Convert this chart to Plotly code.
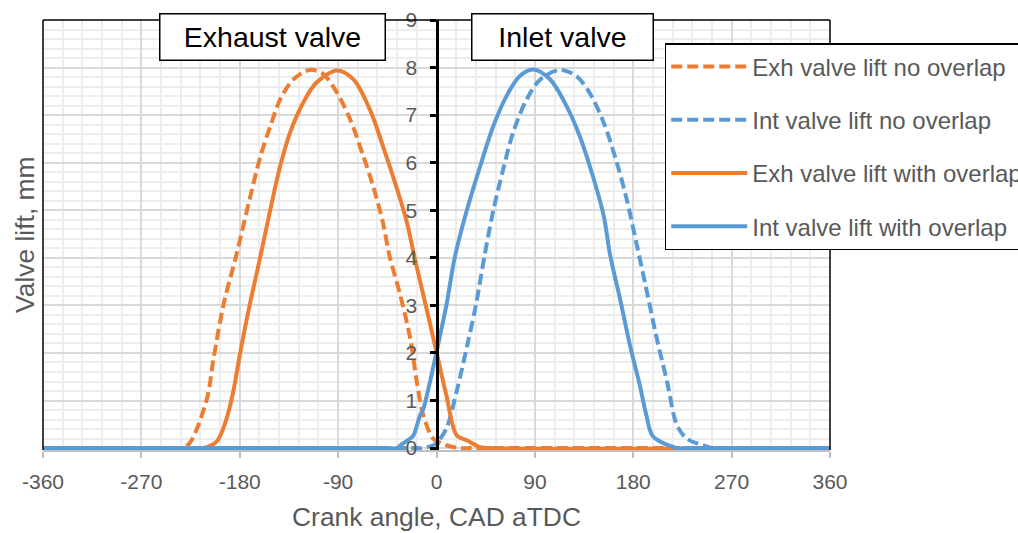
import plotly.graph_objects as go

# ---------------- data ----------------
exh_no_angle = [-360, -240, -232, -225, -210, -204, -195, -183, -171, -161, -152, -143, -131, -116,
                -104, -91, -79, -67, -58, -49, -43, -33, -24, -18, -12, -3, 9, 21, 30, 360]
exh_no_lift = [0, 0, 0, 0.13, 1.04, 1.88, 3.0, 4.07, 5.23, 6.14, 6.77, 7.33, 7.75, 7.95,
               7.87, 7.47, 6.91, 6.14, 5.51, 4.74, 4.04, 3.2, 2.3, 1.39, 0.69, 0.2, 0.06, 0, 0, 0]

int_no_angle = [-360, -20, -12, -3, 0, 9, 18.5, 28, 36, 44, 52, 61, 70, 82.5, 95, 113, 128, 140,
                153, 165, 174, 183, 192, 201, 211, 220, 229, 244, 253, 262, 360]
int_no_lift = [0, 0, 0, 0.06, 0.1, 0.41, 1.2, 2.15, 3.0, 4.05, 5.0, 5.86, 6.63, 7.33, 7.75, 7.95,
               7.82, 7.47, 6.84, 6.0, 5.23, 4.3, 3.34, 2.36, 1.39, 0.48, 0.2, 0.06, 0, 0, 0]

exh_ov_angle = [-360, -222, -213, -201, -193, -186, -180, -171, -161, -152, -143, -134, -122, -110,
                -91, -76, -61, -49, -36, -27, -20, -9, 0, 9, 18.5, 28, 40, 50, 360]
exh_ov_lift = [0, 0, 0, 0.14, 0.55, 1.18, 1.95, 3.0, 4.04, 5.02, 5.93, 6.63, 7.26, 7.68,
               7.94, 7.75, 7.12, 6.35, 5.44, 4.74, 4.0, 2.92, 2.02, 1.11, 0.27, 0.16, 0.02, 0, 0]

int_ov_angle = [-360, -45, -36, -33, -24, -21, -15, -12, -6, 0, 9, 17, 28, 40, 52, 64, 76, 88.5,
                104, 119, 131, 143, 153, 159, 168, 177, 186, 192, 198, 220, 230, 360]
int_ov_lift = [0, 0, 0, 0.06, 0.2, 0.27, 0.69, 0.83, 1.39, 2.02, 3.0, 4.04, 5.02, 5.93, 6.77, 7.4,
               7.82, 7.96, 7.75, 7.19, 6.56, 5.72, 4.88, 4.04, 3.13, 2.16, 1.32, 0.69, 0.25, 0, 0, 0]

series_names = ["Exh valve lift no overlap", "Int valve lift no overlap",
                "Exh valve lift with overlap", "Int valve lift with overlap"]

x_tick_vals = [-360, -270, -180, -90, 0, 90, 180, 270, 360]
x_tick_labels = ["-360", "-270", "-180", "-90", "0", "90", "180", "270", "360"]
y_tick_vals = [0, 1, 2, 3, 4, 5, 6, 7, 8, 9]

x_title = "Crank angle, CAD aTDC"
y_title = "Valve lift, mm"
label_exhaust = "Exhaust valve"
label_inlet = "Inlet valve"

# ---------------- styling ----------------
ORANGE = "#ED7D31"
BLUE = "#5B9BD5"
GREY_TXT = "#595959"
FONT = "Liberation Sans, Arial, sans-serif"
DASH = "11px,5px"

fig = go.Figure()
specs = [
    (exh_no_angle, exh_no_lift, ORANGE, DASH),
    (int_no_angle, int_no_lift, BLUE, DASH),
    (exh_ov_angle, exh_ov_lift, ORANGE, "solid"),
    (int_ov_angle, int_ov_lift, BLUE, "solid"),
]
for name, (xs, ys, col, dash) in zip(series_names, specs):
    fig.add_trace(go.Scatter(
        x=xs, y=ys, mode="lines", name=name, legendgroup=name,
        line=dict(color=col, width=4, dash=dash, shape="spline", smoothing=0.9),
        cliponaxis=False,
    ))

fig.update_layout(
    width=1018, height=533,
    margin=dict(l=43, r=188, t=20, b=83, autoexpand=False),
    paper_bgcolor="white", plot_bgcolor="white",
    font=dict(family=FONT, color=GREY_TXT),
    showlegend=True,
    legend=dict(
        x=0.790, y=0.9465, xanchor="left", yanchor="top",
        bgcolor="white", bordercolor="black", borderwidth=1.5,
        font=dict(size=24, color=GREY_TXT, family=FONT),
        itemwidth=76, tracegroupgap=19, traceorder="grouped",
    ),
    xaxis=dict(
        range=[-360, 360], tickvals=x_tick_vals, ticktext=x_tick_labels,
        showgrid=True, gridcolor="#D9D9D9", gridwidth=1.5,
        minor=dict(dtick=18, showgrid=True, gridcolor="#EDEDED", gridwidth=1.5,
                   ticks=""),
        showline=True, linecolor="#BFBFBF", linewidth=1.5,
        ticks="outside", ticklen=6, tickwidth=1.5, tickcolor="#BFBFBF",
        tickfont=dict(size=21, color=GREY_TXT), zeroline=False,
        ticklabelstandoff=6,
        title=dict(text=x_title, font=dict(size=26.4, color=GREY_TXT), standoff=16),
    ),
    yaxis=dict(
        range=[-0.04, 9], tickvals=y_tick_vals, anchor="free", position=0.5,
        showgrid=True, gridcolor="#D9D9D9", gridwidth=1.5,
        minor=dict(dtick=0.2, showgrid=True, gridcolor="#EDEDED", gridwidth=1.5,
                   ticks=""),
        showline=True, linecolor="black", linewidth=3,
        ticks="outside", ticklen=6, tickwidth=3, tickcolor="black",
        tickfont=dict(size=21, color=GREY_TXT), zeroline=False,
        ticklabelstandoff=8,
    ),
    shapes=[
        dict(type="line", xref="paper", yref="paper", x0=0, x1=1, y0=1, y1=1,
             line=dict(color="black", width=1.5), layer="above"),
        dict(type="line", xref="paper", yref="paper", x0=0, x1=0, y0=0, y1=1,
             line=dict(color="black", width=1.5), layer="above"),
        dict(type="line", xref="paper", yref="paper", x0=1, x1=1, y0=0, y1=1,
             line=dict(color="black", width=1.5), layer="above"),
    ],
    annotations=[
        dict(text=y_title, xref="paper", yref="paper", x=-0.023, y=0.5,
             textangle=-90, showarrow=False, xanchor="center", yanchor="middle",
             font=dict(size=26.4, color=GREY_TXT, family=FONT)),
        dict(text=label_exhaust, xref="paper", yref="paper", x=0.291, y=0.9616,
             showarrow=False, xanchor="center", yanchor="middle",
             width=222, height=43, bgcolor="white", bordercolor="black",
             borderwidth=1.5, borderpad=1,
             font=dict(size=28.5, color="black", family=FONT)),
        dict(text=label_inlet, xref="paper", yref="paper", x=0.6595, y=0.9616,
             showarrow=False, xanchor="center", yanchor="middle",
             width=178, height=43, bgcolor="white", bordercolor="black",
             borderwidth=1.5, borderpad=1,
             font=dict(size=28.5, color="black", family=FONT)),
    ],
)

fig.write_html("out.html")
